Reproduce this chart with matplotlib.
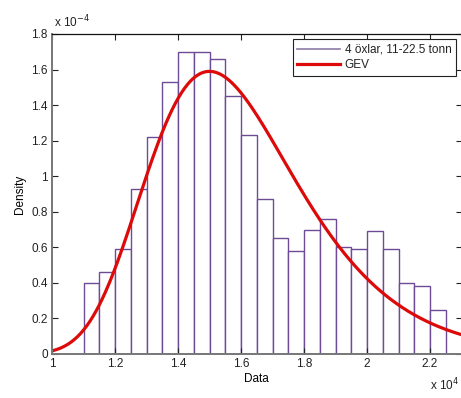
import matplotlib
matplotlib.use('Agg')
import matplotlib.pyplot as plt
from matplotlib.lines import Line2D
from matplotlib.ticker import FuncFormatter
import numpy as np

# histogram of axle loads (bin width 500), density values
bin_edges = np.arange(11000, 22501, 500)
density = np.array([0.40, 0.46, 0.59, 0.93, 1.22, 1.53, 1.70, 1.70, 1.66, 1.45,
                    1.23, 0.87, 0.65, 0.58, 0.70, 0.76, 0.60, 0.59, 0.69, 0.59,
                    0.40, 0.38, 0.25]) * 1e-4

# fitted GEV parameters (shape k, scale sigma, location mu)
gev_k = -0.05
gev_sigma = 2317.0
gev_mu = 14881.0

x_ticks = [10000, 12000, 14000, 16000, 18000, 20000, 22000]
y_ticks = [0, 0.2e-4, 0.4e-4, 0.6e-4, 0.8e-4, 1.0e-4, 1.2e-4, 1.4e-4, 1.6e-4, 1.8e-4]

hist_label = '4 öxlar, 11-22.5 tonn'
fit_label = 'GEV'


def gevpdf(x, k, sigma, mu):
    z = (x - mu) / sigma
    t = np.clip(1 + k * z, 1e-12, None) ** (-1.0 / k)
    return t ** (k + 1) * np.exp(-t) / sigma


plt.rcParams['font.family'] = ['Liberation Sans', 'DejaVu Sans']
plt.rcParams['font.size'] = 8.5
plt.rcParams['text.color'] = '#222222'

fig = plt.figure(figsize=(4.61, 3.98), dpi=100)
ax = fig.add_axes([52 / 461, 44 / 398, 409.5 / 461, 320 / 398])

bar_color = '#6e4b96'
ax.bar(bin_edges[:-1], density, width=np.diff(bin_edges), align='edge',
       facecolor='white', edgecolor=bar_color, linewidth=1.0)

xs = np.linspace(10000, 23000, 400)
fit_line, = ax.plot(xs, gevpdf(xs, gev_k, gev_sigma, gev_mu),
                    color='#dd0a0a', linewidth=2.3)

ax.set_xlim(10000, 23000)
ax.set_ylim(0, 1.8e-4)
ax.set_xticks(x_ticks)
ax.set_yticks(y_ticks)
ax.xaxis.set_major_formatter(FuncFormatter(lambda v, p: f'{v / 1e4:g}'))
ax.yaxis.set_major_formatter(FuncFormatter(lambda v, p: f'{round(v / 1e-4, 2):g}'))

ax.tick_params(direction='in', length=4, width=0.8, top=True, right=True,
               colors='#222222', labelsize=8.5, pad=3)
for side in ['left', 'bottom']:
    ax.spines[side].set_color('#777777')
    ax.spines[side].set_linewidth(1.4)
for side in ['top', 'right']:
    ax.spines[side].set_color('#111111')
    ax.spines[side].set_linewidth(0.9)

ax.set_xlabel('Data', labelpad=2)
ax.set_ylabel('Density', labelpad=4)

# axis multipliers
ax.text(0.005, 1.012, r'x 10$^{-4}$', transform=ax.transAxes, ha='left', va='bottom',
        fontsize=8.5)
fig.text(459.5 / 461, 1 - 377 / 398, r'x 10$^{4}$', ha='right', va='top', fontsize=8.5)

handles = [Line2D([], [], color='#8c7aa8', linewidth=1.2), fit_line]
leg = ax.legend(handles, [hist_label, fit_label], loc='upper right',
                bbox_to_anchor=(456 / 461, 1 - 39 / 398), bbox_transform=fig.transFigure,
                borderaxespad=0, fancybox=False, framealpha=1, edgecolor='#222222',
                fontsize=8.5, handlelength=3.6, handletextpad=0.4, borderpad=0.4,
                labelspacing=0.3)
leg.get_frame().set_linewidth(0.8)

plt.savefig('out.png', dpi=100)
plt.close()
